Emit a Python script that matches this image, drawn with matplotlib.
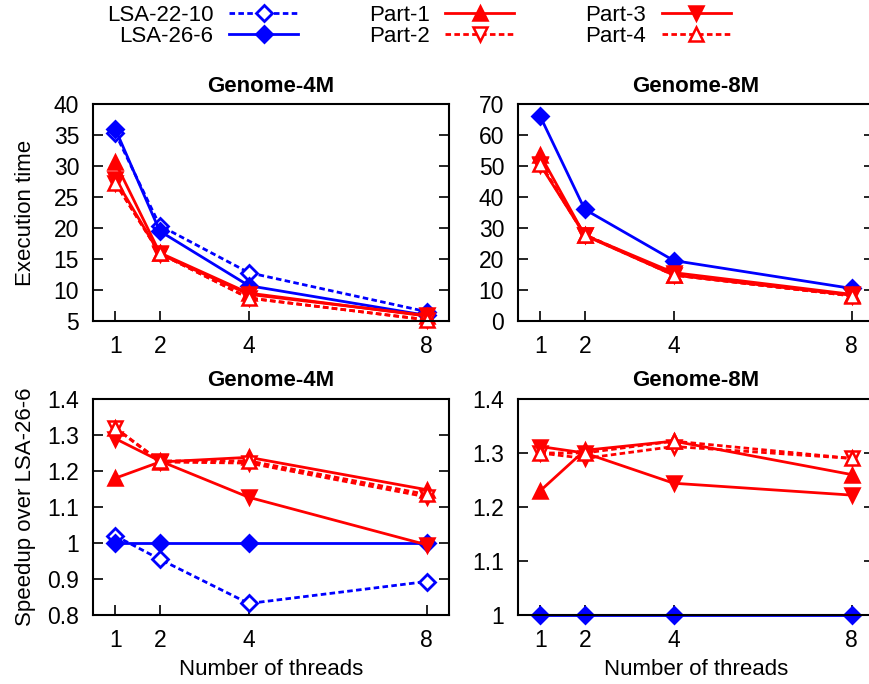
import numpy as np
import matplotlib
matplotlib.use("Agg")
import matplotlib.pyplot as plt
from matplotlib.lines import Line2D

plt.rcParams['font.family'] = ['Liberation Sans', 'DejaVu Sans']
plt.rcParams['font.size'] = 16

threads = [1, 2, 4, 8]

# execution time, Genome-4M
lsa22_4m = [35.3, 20.4, 12.8, 6.5]
lsa26_4m = [36.0, 19.5, 10.7, 5.9]
part1_4m = [30.6, 16.0, 9.5, 5.8]
part2_4m = [27.3, 15.9, 8.7, 5.2]
part3_4m = [27.9, 15.8, 9.3, 5.9]
part4_4m = [27.3, 15.9, 8.7, 5.2]

# execution time, Genome-8M
lsa26_8m = [66.0, 36.0, 19.5, 10.5]
part1_8m = [53.6, 27.6, 14.8, 8.3]
part2_8m = [50.8, 27.9, 14.9, 8.1]
part3_8m = [50.4, 27.7, 15.6, 8.6]
part4_8m = [50.8, 27.7, 14.8, 8.1]

# speedup over LSA-26-6, Genome-4M
sp_lsa22_4m = [1.02, 0.955, 0.832, 0.893]
sp_lsa26_4m = [1.0, 1.0, 1.0, 1.0]
sp_part1_4m = [1.18, 1.225, 1.238, 1.148]
sp_part2_4m = [1.32, 1.225, 1.222, 1.128]
sp_part3_4m = [1.29, 1.228, 1.127, 0.995]
sp_part4_4m = [1.32, 1.228, 1.228, 1.135]

# speedup over LSA-26-6, Genome-8M
sp_lsa26_8m = [1.0, 1.0, 1.0, 1.0]
sp_part1_8m = [1.23, 1.305, 1.322, 1.26]
sp_part2_8m = [1.30, 1.29, 1.312, 1.29]
sp_part3_8m = [1.312, 1.30, 1.244, 1.222]
sp_part4_8m = [1.30, 1.30, 1.322, 1.29]

blue = '#0000ff'
red = '#ff0000'
dash = (0, (2.0, 1.2))
lw = 2.0

styles = {
    'LSA-22-10': dict(color=blue, ls=dash, marker='D', mfc='white', ms=8, mew=2),
    'LSA-26-6': dict(color=blue, ls='-', marker='D', mfc=blue, ms=8, mew=2),
    'Part-1': dict(color=red, ls='-', marker='^', mfc=red, ms=10.5, mew=1.8),
    'Part-2': dict(color=red, ls=dash, marker='v', mfc='white', ms=10.5, mew=1.8),
    'Part-3': dict(color=red, ls='-', marker='v', mfc=red, ms=10.5, mew=1.8),
    'Part-4': dict(color=red, ls=dash, marker='^', mfc='white', ms=10.5, mew=1.8),
}

W, H = 870, 684
fig = plt.figure(figsize=(W / 100, H / 100), dpi=100)

def box(l, t, r, b):
    return [l / W, 1 - b / H, (r - l) / W, (b - t) / H]

ax_tl = fig.add_axes(box(93, 104, 449, 321))
ax_tr = fig.add_axes(box(518, 104, 874, 321))
ax_bl = fig.add_axes(box(93, 399, 449, 615))
ax_br = fig.add_axes(box(518, 399, 874, 615))

panels = [
    (ax_tl, {'LSA-22-10': lsa22_4m, 'LSA-26-6': lsa26_4m, 'Part-1': part1_4m,
             'Part-2': part2_4m, 'Part-3': part3_4m, 'Part-4': part4_4m},
     (5, 40), np.arange(5, 41, 5), 'Genome-4M'),
    (ax_tr, {'LSA-26-6': lsa26_8m, 'Part-1': part1_8m, 'Part-2': part2_8m,
             'Part-3': part3_8m, 'Part-4': part4_8m},
     (0, 70), np.arange(0, 71, 10), 'Genome-8M'),
    (ax_bl, {'LSA-22-10': sp_lsa22_4m, 'LSA-26-6': sp_lsa26_4m, 'Part-1': sp_part1_4m,
             'Part-2': sp_part2_4m, 'Part-3': sp_part3_4m, 'Part-4': sp_part4_4m},
     (0.8, 1.4), np.round(np.arange(0.8, 1.41, 0.1), 1), 'Genome-4M'),
    (ax_br, {'LSA-26-6': sp_lsa26_8m, 'Part-1': sp_part1_8m, 'Part-2': sp_part2_8m,
             'Part-3': sp_part3_8m, 'Part-4': sp_part4_8m},
     (1.0, 1.4), np.round(np.arange(1.0, 1.41, 0.1), 1), 'Genome-8M'),
]

for ax, series, ylim, yt, title in panels:
    for name, vals in series.items():
        ax.plot(threads, vals, lw=lw, clip_on=False, **styles[name])
    ax.set_xlim(0.5, 8.5)
    ax.set_ylim(*ylim)
    ax.set_xticks(threads)
    ax.set_yticks(yt)
    ax.set_yticklabels(['%g' % v for v in yt])
    ax.set_title(title, fontweight='bold', fontsize=16, pad=9)
    ax.tick_params(direction='in', length=7, width=1.2, right=True, top=False,
                   labelsize=16.5)
    ax.tick_params(axis='x', pad=10)
    ax.tick_params(axis='y', pad=10)
    for sp in ax.spines.values():
        sp.set_linewidth(1.5)

ax_tl.set_ylabel('Execution time', fontsize=16)
ax_bl.set_ylabel('Speedup over LSA-26-6', fontsize=16)
ax_tl.yaxis.set_label_coords(-0.16, 0.5)
ax_bl.yaxis.set_label_coords(-0.16, 0.5)
for ax in (ax_bl, ax_br):
    ax.set_xlabel('Number of threads', fontsize=16)
    ax.xaxis.set_label_coords(0.5, -0.205)

names = ['LSA-22-10', 'LSA-26-6', 'Part-1', 'Part-2', 'Part-3', 'Part-4']
handles = [Line2D([], [], lw=lw, **styles[n]) for n in names]
fig.legend(handles, names, ncol=3, loc='upper left', bbox_to_anchor=(107 / W, 1 - 5 / H),
           frameon=False, markerfirst=False, handlelength=3.1, handletextpad=0.7,
           columnspacing=3.2, labelspacing=0.0, borderpad=0, borderaxespad=0,
           fontsize=16)

fig.savefig('out.png', dpi=100)
